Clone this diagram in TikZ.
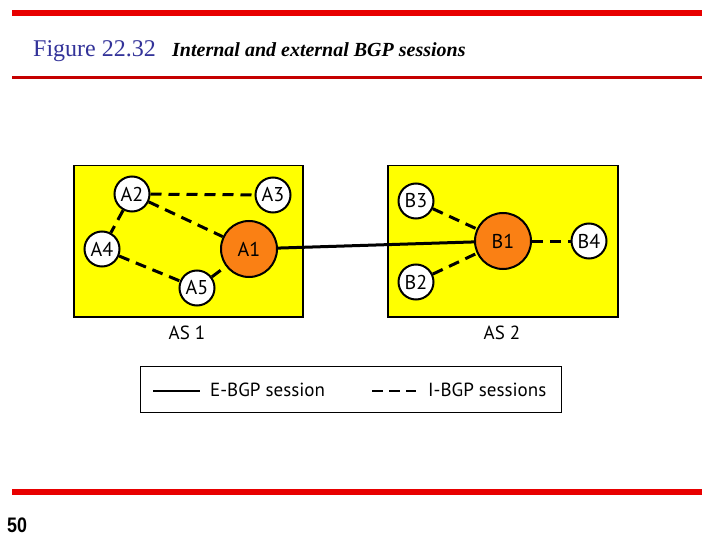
\documentclass[tikz,border=0pt]{standalone}
\usepackage{fontspec}
\setmainfont{Liberation Serif}
\newfontfamily\lblfont{PT Sans}
\newfontfamily\numfont[FakeStretch=0.85]{Liberation Sans}
\definecolor{redbar}{RGB}{232,0,0}
\definecolor{titleblue}{RGB}{51,51,153}
\definecolor{asyellow}{RGB}{255,255,0}
\definecolor{rorange}{RGB}{250,128,20}
\begin{document}
\begin{tikzpicture}[x=1pt,y=-1pt,
  asbox/.style={draw=black,line width=1.5pt,fill=asyellow},
  small/.style={circle,draw=black,line width=2pt,fill=white,minimum size=35pt,inner sep=0pt,font=\lblfont\fontsize{20}{22}\selectfont},
  big/.style={circle,draw=black,line width=2pt,fill=rorange,minimum size=56pt,inner sep=0pt,font=\lblfont\fontsize{20}{22}\selectfont},
  ibgp/.style={line width=3pt,dash pattern=on 11pt off 7pt},
  ebgp/.style={line width=3pt},
  lbl/.style={font=\lblfont\fontsize{19}{21}\selectfont,inner sep=0pt}]
\useasboundingbox (0,0) rectangle (720,540);
% bars
\fill[redbar] (12,10) rectangle (702,16);
\fill[redbar!85!black] (12,76) rectangle (702,79);
\fill[redbar] (12,489) rectangle (702,495);
% title
\node[anchor=base west,inner sep=0pt,text=titleblue,font=\fontsize{24}{26}\selectfont] (ttl) at (33,57) {Figure 22.32};
\node[anchor=base west,inner sep=0pt,font=\bfseries\itshape\fontsize{20}{22}\selectfont] (sub) at (172,57) {Internal and external BGP sessions};
\node[anchor=base west,inner sep=0pt,font=\numfont\bfseries\fontsize{21}{23}\selectfont] (pg) at (7,532) {50};
% AS boxes
\node[asbox,anchor=north west,minimum width=229pt,minimum height=151pt,inner sep=0pt] (as1) at (73,165) {};
\node[asbox,anchor=north west,minimum width=230pt,minimum height=151pt,inner sep=0pt] (as2) at (387,165) {};
\node[lbl,anchor=base] (as1l) at (187,339) {AS 1};
\node[lbl,anchor=base] (as2l) at (502,339) {AS 2};
% routers
\node[small] (A2) at (132,194) {A2};
\node[small] (A3) at (273,195) {A3};
\node[small] (A4) at (102,249) {A4};
\node[big]   (A1) at (249,249) {A1};
\node[small] (A5) at (197,288) {A5};
\node[small] (B3) at (416,201) {B3};
\node[big]   (B1) at (503,241) {B1};
\node[small] (B4) at (589,241) {B4};
\node[small] (B2) at (416,282) {B2};
% sessions
\draw[ibgp] (A2) -- (A3);
\draw[ibgp] (A2) -- (A1);
\draw[ibgp] (A2) -- (A4);
\draw[ibgp] (A4) -- (A5);
\draw[ibgp] (A5) -- (A1);
\draw[ibgp] (B3) -- (B1);
\draw[ibgp] (B2) -- (B1);
\draw[ibgp] (B1) -- (B4);
\draw[ebgp] (A1) -- (B1);
% legend
\node[draw=black,line width=1pt,anchor=north west,minimum width=421pt,minimum height=46pt,inner sep=0pt] (leg) at (140,366) {};
\coordinate (e1) at (153,391);
\coordinate (e2) at (200,391);
\coordinate (i1) at (372,391);
\coordinate (i2) at (416,391);
\draw[line width=2.5pt] (e1) -- (e2);
\draw[line width=2.5pt,dash pattern=on 11pt off 6pt] (i1) -- (i2);
\node[lbl,anchor=base west] (el) at (210,396) {E-BGP session};
\node[lbl,anchor=base west] (il) at (428,396) {I-BGP sessions};
\end{tikzpicture}
\end{document}
